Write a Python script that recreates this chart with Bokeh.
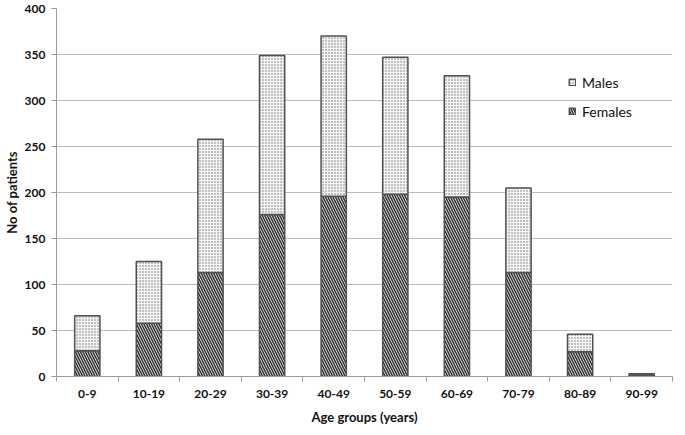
from bokeh.plotting import figure
from bokeh.models import FixedTicker, Legend, LegendItem
from bokeh.embed import file_html
from bokeh.resources import INLINE

categories = ["0-9", "10-19", "20-29", "30-39", "40-49", "50-59", "60-69", "70-79", "80-89", "90-99"]
females = [28, 58, 113, 176, 196, 198, 195, 113, 27, 2]
males = [38, 67, 145, 173, 174, 149, 132, 92, 19, 1]
y_ticks = [0, 50, 100, 150, 200, 250, 300, 350, 400]

FONT = "Lato"
xs = list(range(len(categories)))

p = figure(width=676, height=427, x_range=(-0.5, len(categories) - 0.5), y_range=(0, 400),
           output_backend="svg", toolbar_location=None,
           min_border_left=50, min_border_right=4, min_border_top=8, min_border_bottom=51)
p.outline_line_color = None
p.background_fill_color = "white"

src = dict(x=xs, females=females, males=males)
rs = p.vbar_stack(["females", "males"], x="x", width=0.41, source=src,
                  fill_color=["white", "#f6f6f6"],
                  line_color="#505050", line_width=1.5,
                  hatch_pattern=["\\", "."], hatch_scale=[5.0, 3.0],
                  hatch_weight=[1.6, 1.0], hatch_color=["#333333", "#707070"])

p.xgrid.grid_line_color = None
p.ygrid.grid_line_color = "#bdbdbd"
p.ygrid.grid_line_width = 1

p.yaxis.ticker = FixedTicker(ticks=y_ticks)
p.xaxis.ticker = FixedTicker(ticks=xs, minor_ticks=[i - 0.5 for i in range(len(categories) + 1)])
p.xaxis.major_label_overrides = {i: c for i, c in zip(xs, categories)}

for ax in (p.xaxis[0], p.yaxis[0]):
    ax.axis_line_color = "#9a9a9a"
    ax.major_label_text_font = FONT
    ax.major_label_text_font_style = "bold"
    ax.major_label_text_font_size = "12px"
    ax.major_label_text_color = "#111111"
    ax.axis_label_text_font = FONT
    ax.axis_label_text_font_style = "bold"
    ax.axis_label_text_font_size = "13px"
    ax.axis_label_text_color = "#111111"

p.yaxis.axis_label = "No of patients"
p.yaxis.major_tick_line_color = "#9a9a9a"
p.yaxis.major_tick_in = 0
p.yaxis.major_tick_out = 5
p.yaxis.minor_tick_line_color = None
p.yaxis.major_label_standoff = 6
p.yaxis.axis_label_standoff = 2

p.xaxis.axis_label = "Age groups (years)"
p.xaxis.major_tick_line_color = None
p.xaxis.major_tick_in = 0
p.xaxis.major_tick_out = 5
p.xaxis.minor_tick_line_color = "#9a9a9a"
p.xaxis.minor_tick_in = 0
p.xaxis.minor_tick_out = 5
p.xaxis.major_label_standoff = 8
p.xaxis.axis_label_standoff = 8

legend = Legend(items=[LegendItem(label="Males", renderers=[rs[1]]),
                       LegendItem(label="Females", renderers=[rs[0]])],
                location=(512, 256))
legend.background_fill_alpha = 0
legend.border_line_color = None
legend.padding = 6
legend.label_text_font = FONT
legend.label_text_font_size = "14px"
legend.label_text_color = "#111111"
legend.glyph_width = 8
legend.glyph_height = 8
legend.label_standoff = 6
legend.spacing = 11
legend.label_height = 18
p.add_layout(legend)

open("out.html", "w").write(file_html(p, INLINE))
